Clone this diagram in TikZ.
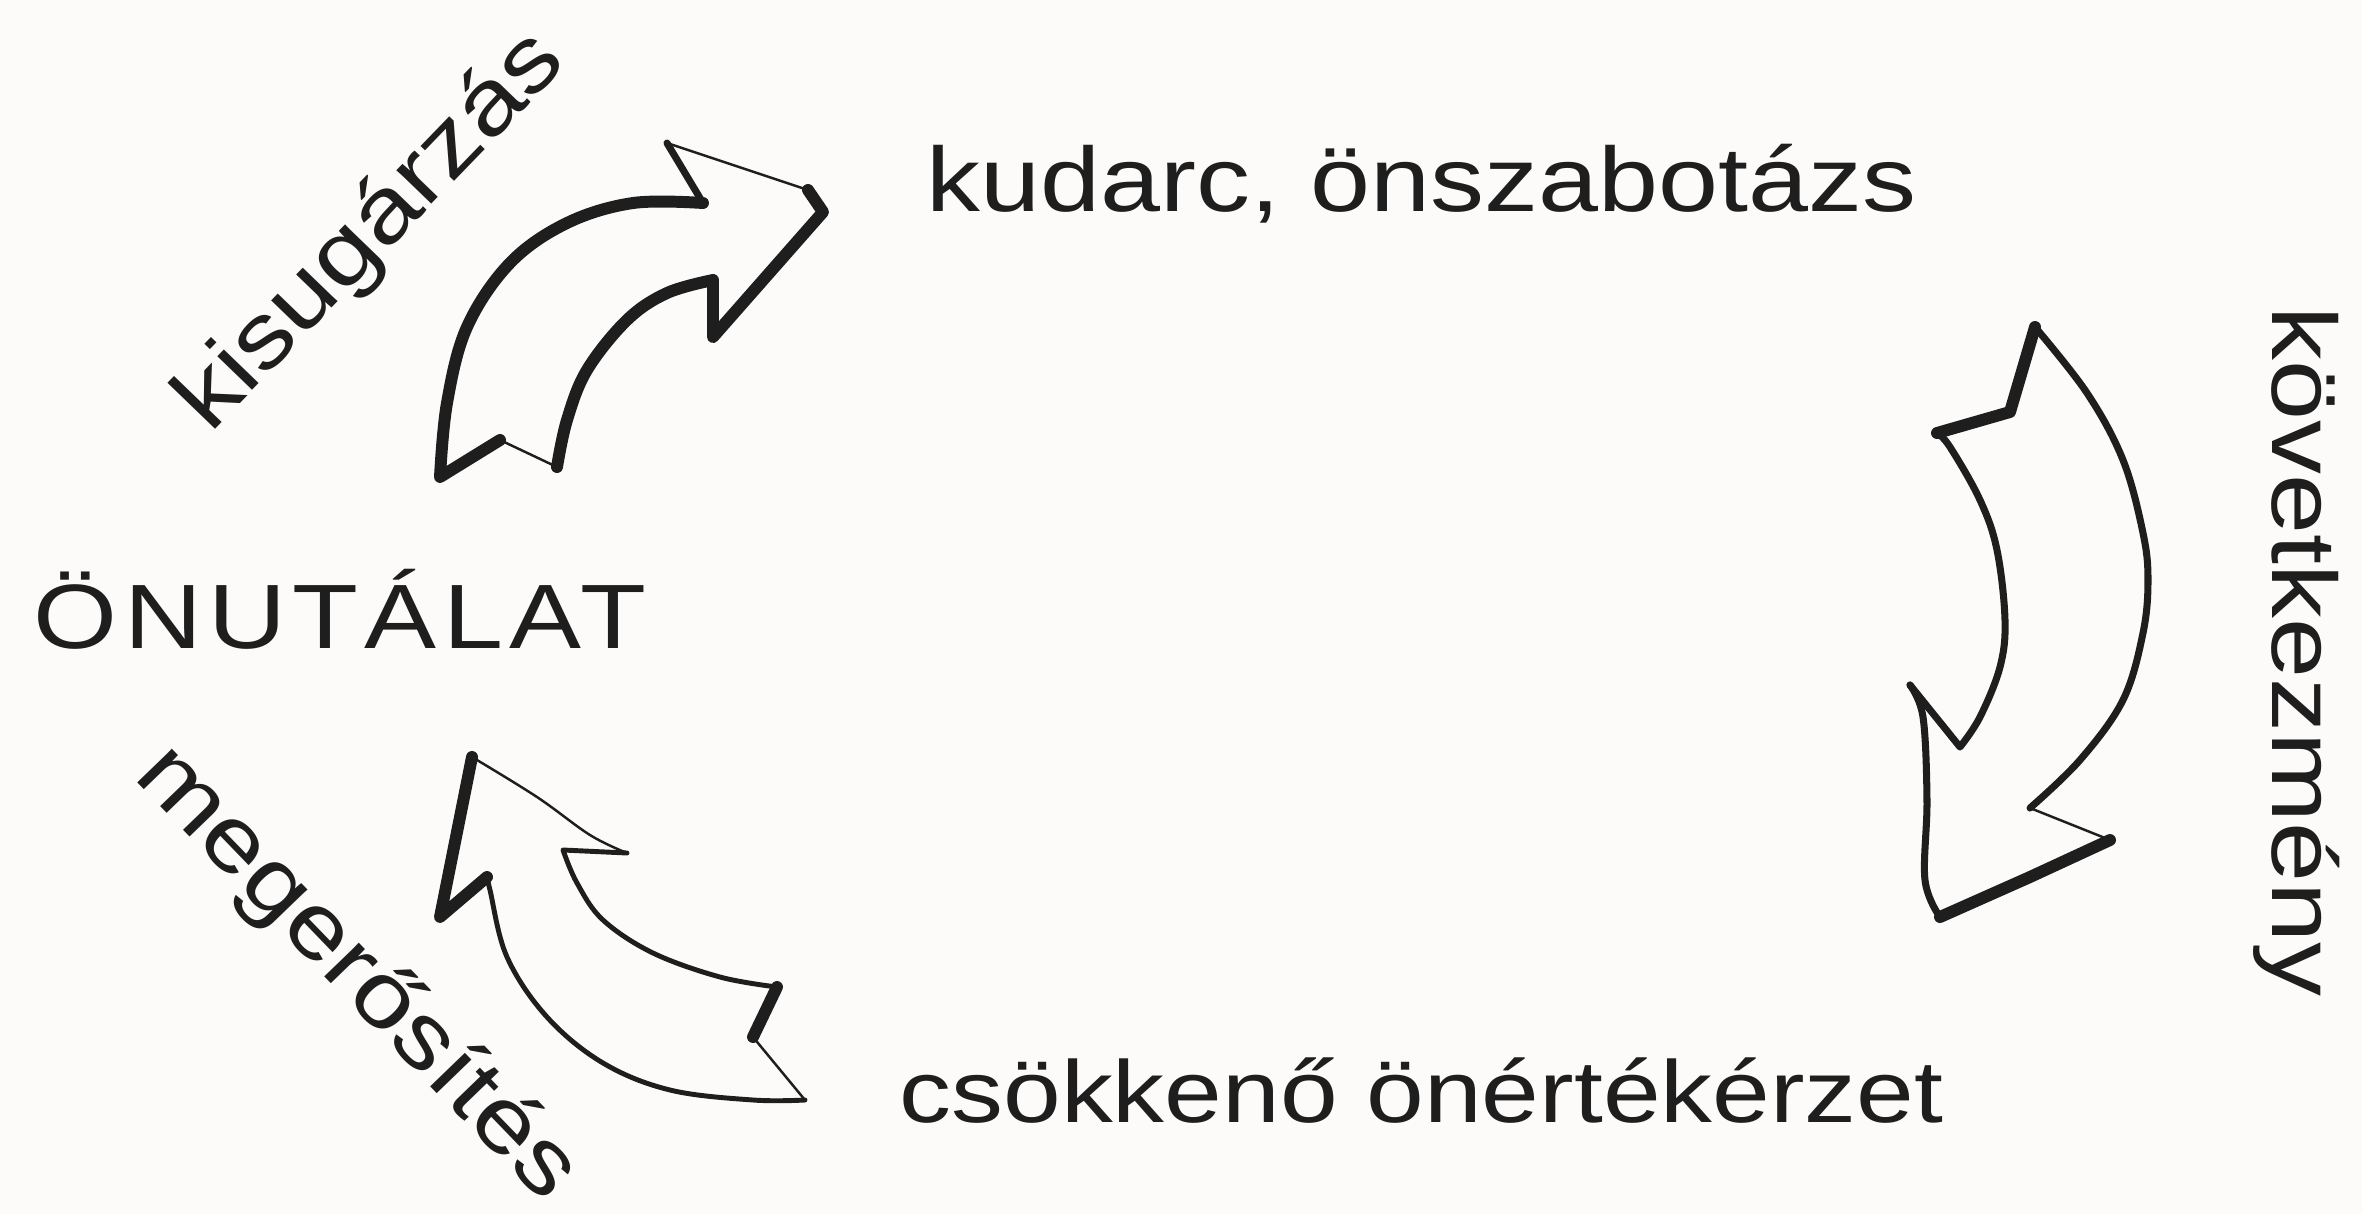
\documentclass[tikz,border=0pt]{standalone}
\usepackage{fontspec}
\setmainfont{Liberation Sans}[FakeStretch=1.18]
\usepackage{tikz}
\definecolor{paper}{RGB}{253,251,249}
\definecolor{ink}{RGB}{30,30,30}

\begin{document}
\begin{tikzpicture}[x=0.01cm,y=-0.01cm,
    lbl/.style={font=\fontsize{26}{30}\selectfont,text=ink,inner sep=0pt},
    inkthick/.style={draw=ink,line width=3.4pt,line cap=round,line join=round},
    inkmid/.style={draw=ink,line width=2pt,line cap=round,line join=round},
    inklight/.style={draw=ink,line width=1.4pt,line cap=round,line join=round},
    inkthin/.style={draw=ink,line width=0.7pt,line cap=round,line join=round}]
    \fill[paper] (0,0) rectangle (2362,1214);
    \useasboundingbox (0,0) rectangle (2362,1214);

    \node[lbl,anchor=base west] (kudarc) at (926,211) {kudarc, önszabotázs};
    \node[lbl,anchor=base west] (onut) at (33,648) {\addfontfeatures{LetterSpace=7}ÖNUTÁLAT};
    \node[lbl,anchor=base west,font=\fontsize{25}{30}\selectfont] (csokk) at (899,1122) {csökkenő önértékérzet};
    \node[lbl,anchor=base west,rotate=-90] (kovet) at (2272,306) {következmény};
    \node[lbl,rotate=46] (kisug) at (372,232) {kisugárzás};
    \node[lbl,rotate=-46] (meger) at (356,974) {megerősítés};

    \draw[inkthick] plot[smooth,tension=0.6] coordinates {(703,203) (633,203) (567,223) (510,263) (467,327) (447,403) (440,477)} -- (500,440);
    \draw[inkthin] (500,440) -- (557,467);
    \draw[inkthick] plot[smooth,tension=0.6] coordinates {(557,467) (567,420) (587,370) (627,320) (667,293) (713,280)} -- (713,337) -- (823,212) -- (808,190);
    \draw[inkthin] (808,190) -- (667,143);
    \draw[inkmid] (667,143) -- (703,203);

    \draw[inkthick] (2035,327) -- (2010,412) -- (1937,433);
    \draw[inkmid] plot[smooth,tension=0.6] coordinates {(1937,433) (1950,447) (1980,500) (1997,550) (2005,620) (2000,667) (1980,717) (1960,747)} -- (1910,685);
    \draw[inkmid] plot[smooth,tension=0.6] coordinates {(1910,685) (1923,717) (1927,800) (1925,880) (1940,917)};
    \draw[inkthick] (1940,917) -- (2030,877) -- (2110,840);
    \draw[inkthin] (2110,840) -- (2030,808);
    \draw[inkmid] plot[smooth,tension=0.6] coordinates {(2030,808) (2080,760) (2123,700) (2143,633) (2148,580) (2143,533) (2123,460) (2087,393) (2035,327)};

    \draw[inkthick] (472,757) -- (440,917) -- (487,877);
    \draw[inklight] plot[smooth,tension=0.6] coordinates {(487,877) (490,890) (507,957) (547,1017) (603,1063) (670,1090) (753,1100) (805,1100)};
    \draw[inkthin] (805,1100) -- (753,1037);
    \draw[inkthick] (753,1037) -- (777,987);
    \draw[inklight] plot[smooth,tension=0.6] coordinates {(777,987) (720,977) (653,953) (603,920) (577,883) (563,850)} -- (627,853);
    \draw[inkthin] plot[smooth,tension=0.6] coordinates {(627,853) (590,835) (537,797) (472,757)};
\end{tikzpicture}
\end{document}
